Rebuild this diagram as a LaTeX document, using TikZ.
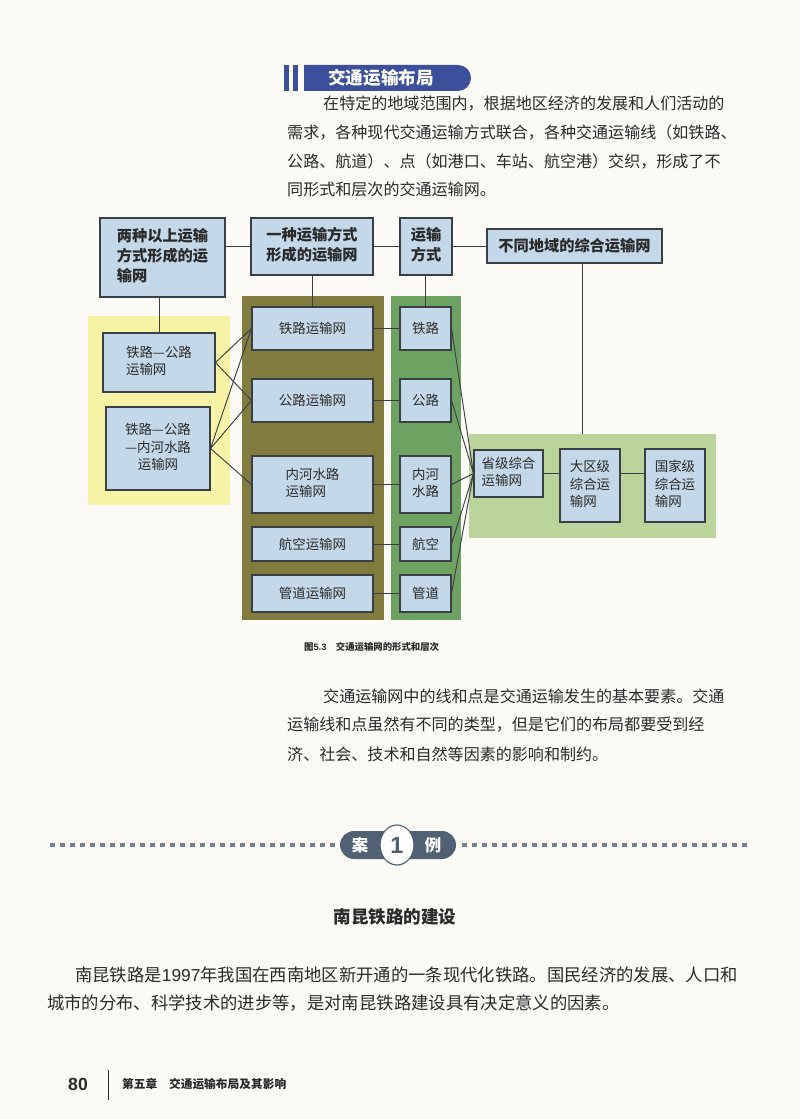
\documentclass[tikz,border=0pt]{standalone}
\usepackage{fontspec}
\setmainfont{Noto Sans CJK SC}
\newfontfamily\latin{Liberation Sans}
\usetikzlibrary{calc}
\definecolor{pg}{HTML}{FBFAF5}
\definecolor{boxc}{HTML}{C3D8E8}
\definecolor{bord}{HTML}{3A3F45}
\definecolor{yel}{HTML}{F6F3A6}
\definecolor{oli}{HTML}{817B3E}
\definecolor{grn}{HTML}{6EA262}
\definecolor{lgr}{HTML}{B9D59C}
\definecolor{hdr}{HTML}{3C4F9A}
\definecolor{slate}{HTML}{4F6173}
\definecolor{txt}{HTML}{2A2A2A}
\tikzset{
 box/.style={draw=bord,line width=0.9pt,fill=boxc,inner sep=1pt,font=\fontsize{11.5}{15}\selectfont,text=txt},
 bbox/.style={box,font=\fontsize{13}{17}\selectfont\bfseries},
 ln/.style={draw=bord,line width=0.8pt},
 para/.style={anchor=west,inner sep=0pt,font=\fontsize{13.7}{16}\selectfont,text=txt},
 para2/.style={anchor=west,inner sep=0pt,font=\fontsize{14.8}{16}\selectfont,text=txt},
}
\newcommand\bx[7][box]{\node[#1,minimum width={(#5-#3)*0.3mm},minimum height={(#6-#4)*0.3mm}] (#2) at ({(#3+#5)/2},{(#4+#6)/2}) {#7};}
\begin{document}
\begin{tikzpicture}[x=0.3mm,y=-0.3mm]
\fill[pg] (0,0) rectangle (800,1119);
\useasboundingbox (0,0) rectangle (800,1119);
% header
\fill[hdr] (284,65) rectangle (289,91);
\fill[hdr] (293,65) rectangle (298,91);
\fill[hdr] (304,65) -- (458,65) arc (-90:90:13) -- (304,91) -- cycle;
\node[text=white,font=\fontsize{15}{16}\selectfont\bfseries] (hd) at (381,78) {交通运输布局};
\node[para] (p1) at (323,104) {在特定的地域范围内，根据地区经济的发展和人们活动的};
\node[para] (p2) at (287,132) {需求，各种现代交通运输方式联合，各种交通运输线（如铁路、};
\node[para] (p3) at (287,161) {公路、航道）、点（如港口、车站、航空港）交织，形成了不};
\node[para] (p4) at (287,189) {同形式和层次的交通运输网。};
% backgrounds
\fill[yel] (88,316) rectangle (230,505);
\fill[oli] (242,296) rectangle (384,620);
\fill[grn] (391,296) rectangle (461,620);
\fill[lgr] (469,434) rectangle (716,538);
% top boxes
\bx[bbox]{A}{100}{218}{225}{297}{\begin{tabular}{@{}l@{}}两种以上运输\\方式形成的运\\输网\end{tabular}}
\bx[bbox]{B}{251}{218}{373}{275}{\begin{tabular}{@{}c@{}}一种运输方式\\形成的运输网\end{tabular}}
\bx[bbox]{C}{400}{218}{452}{275}{\begin{tabular}{@{}c@{}}运输\\方式\end{tabular}}
\bx[bbox]{D}{487}{229}{662}{263}{不同地域的综合运输网}
% yellow
\bx{Y1}{103}{333}{215}{392}{\begin{tabular}{@{}l@{}}铁路—公路\\运输网\end{tabular}}
\bx{Y2}{106}{407}{210}{490}{\begin{tabular}{@{}c@{}}铁路—公路\\—内河水路\\运输网\end{tabular}}
% olive
\bx{O1}{252}{307}{373}{350}{铁路运输网}
\bx{O2}{252}{379}{373}{422}{公路运输网}
\bx{O3}{252}{456}{373}{513}{\begin{tabular}{@{}l@{}}内河水路\\运输网\end{tabular}}
\bx{O4}{252}{527}{373}{561}{航空运输网}
\bx{O5}{252}{575}{373}{612}{管道运输网}
% green
\bx{G1}{400}{307}{451}{350}{铁路}
\bx{G2}{400}{379}{451}{422}{公路}
\bx{G3}{400}{456}{451}{513}{\begin{tabular}{@{}c@{}}内河\\水路\end{tabular}}
\bx{G4}{400}{527}{451}{561}{航空}
\bx{G5}{400}{575}{451}{612}{管道}
% right
\bx{R1}{474}{450}{543}{497}{\begin{tabular}{@{}l@{}}省级综合\\运输网\end{tabular}}
\bx{R2}{560}{449}{620}{522}{\begin{tabular}{@{}l@{}}大区级\\综合运\\输网\end{tabular}}
\bx{R3}{645}{449}{705}{522}{\begin{tabular}{@{}l@{}}国家级\\综合运\\输网\end{tabular}}
\coordinate (lgtop) at (582,434);
% connectors
\draw[ln] (A.east|-B) -- (B.west);
\draw[ln] (B.east) -- (C.west|-B);
\draw[ln] (C.east) -- (D.west|-C);
\draw[ln] (A.south-|Y1) -- (Y1.north);
\draw[ln] (B.south-|O1) -- (O1.north);
\draw[ln] (C.south-|G1) -- (G1.north);
\draw[ln] (D.south-|lgtop) -- (lgtop);
\draw[ln] (Y1.east) -- (O1.west) (Y1.east) -- (O2.west);
\draw[ln] (Y2.east) -- (O1.west) (Y2.east) -- (O2.west) (Y2.east) -- (O3.west);
\foreach \i in {1,...,5}{\draw[ln] (O\i.east) -- (G\i.west);}
\foreach \i in {1,2,4,5}{\draw[ln] (G\i.east) -- (R1.west);}
\draw[ln] (G3.east) -- (R1.west);
\draw[ln] (R1.east) -- (R2.west|-R1.east);
\draw[ln] (R2.east|-R1.east) -- (R3.west|-R1.east);
\node[anchor=west,font=\fontsize{8}{9}\selectfont\bfseries,text=txt] (cap) at (300,647) {图{\latin 5.3}\quad 交通运输网的形式和层次};
\node[para] (q1) at (323,696) {交通运输网中的线和点是交通运输发生的基本要素。交通};
\node[para] (q2) at (287,725) {运输线和点虽然有不同的类型，但是它们的布局都要受到经};
\node[para] (q3) at (287,754) {济、社会、技术和自然等因素的影响和制约。};
% case banner
\foreach \x in {50,60,...,330}{\fill[slate!80] (\x,843) rectangle (\x+4.5,847);}
\foreach \x in {462,472,...,742}{\fill[slate!80] (\x,843) rectangle (\x+4.5,847);}
\fill[slate,rounded corners=12pt] (340,831) rectangle (456,859);
\draw[slate,fill=white,line width=1pt] (397,845) ellipse (17 and 20);
\node[text=white,font=\fontsize{14}{15}\selectfont\bfseries] (an) at (360,845) {案};
\node[text=slate,font=\fontsize{20}{21}\selectfont\bfseries\latin] (one) at (397,845) {1};
\node[text=white,font=\fontsize{14}{15}\selectfont\bfseries] (li) at (433,845) {例};
\node[font=\fontsize{15}{16}\selectfont\bfseries,text=txt] (tt) at (395,917) {南昆铁路的建设};
\node[para2] (r1) at (75,975) {南昆铁路是{\latin 1997}年我国在西南地区新开通的一条现代化铁路。国民经济的发展、人口和};
\node[para2] (r2) at (47,1003) {城市的分布、科学技术的进步等，是对南昆铁路建设具有决定意义的因素。};
% footer
\node[anchor=west,inner sep=0pt,font=\fontsize{15}{16}\selectfont\bfseries\latin,text=txt] (pn) at (68,1084) {80};
\draw[line width=0.8pt,txt] (108,1070) -- (108,1100);
\node[anchor=west,inner sep=0pt,font=\fontsize{10}{12}\selectfont\bfseries,text=txt] (ft) at (122,1084) {第五章\quad 交通运输布局及其影响};
\end{tikzpicture}
\end{document}
